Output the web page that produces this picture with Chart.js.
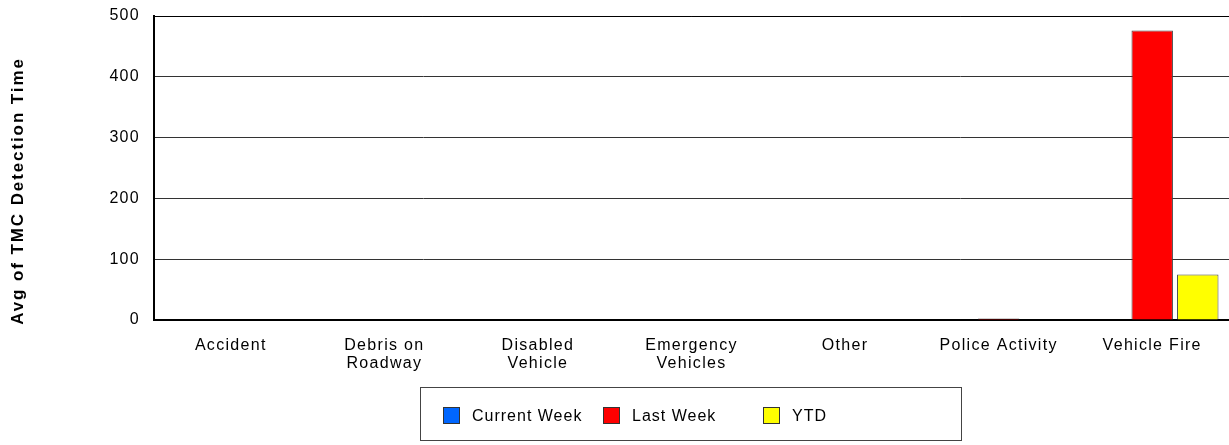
<!DOCTYPE html>
<html>
<head>
<meta charset="utf-8">
<script src="https://cdn.jsdelivr.net/npm/chart.js@4"></script>
<style>
  body { margin: 0; background: #fff; }
  #wrap { position: relative; width: 1229px; height: 445px; }
  #legend {
    position: absolute; left: 420px; top: 387px; width: 542px; height: 54px;
    border: 1px solid #444; box-sizing: border-box;
    font: 16px "Liberation Sans", Arial, sans-serif; color: #000; letter-spacing: 1px;
  }
  .item { position: absolute; top: 19px; height: 17px; line-height: 17px; }
  .sw { position: absolute; left: 0; top: 0; width: 17px; height: 17px; border: 1px solid #333; box-sizing: border-box; }
  .item span { position: absolute; left: 29px; top: 0; white-space: nowrap; }
</style>
</head>
<body>
<div id="wrap">
  <canvas id="myChart" width="1229" height="445"></canvas>
  <div id="legend"></div>
</div>
<script>
const categories = [
  "Accident", ["Debris on", "Roadway"], ["Disabled", "Vehicle"],
  ["Emergency", "Vehicles"], "Other", "Police Activity", "Vehicle Fire"
];
const currentWeek = [0, 0, 0, 0, 0, 0, 0];
const lastWeek = [0, 0, 0, 0, 0, 2.5, 476];
const ytd = [0, 0, 0, 0, 0, 0, 75];
const yTicks = [0, 100, 200, 300, 400, 500];

const seriesNames = ["Current Week", "Last Week", "YTD"];
const seriesColors = ["#0066ff", "#ff0000", "#ffff00"];
const yTitle = "Avg of TMC Detection Time";

const data = {
  labels: categories,
  datasets: [
    { label: seriesNames[0], data: currentWeek, backgroundColor: seriesColors[0] },
    { label: seriesNames[1], data: lastWeek, backgroundColor: seriesColors[1] },
    { label: seriesNames[2], data: ytd, backgroundColor: seriesColors[2] }
  ].map(d => Object.assign(d, {
    borderColor: '#444',
    borderWidth: 1,
    borderSkipped: 'bottom',
    categoryPercentage: 0.89,
    barPercentage: 0.91
  }))
};

// wide text spacing like the original, top frame line and y title
const extras = {
  id: 'extras',
  beforeInit(chart) { chart.ctx.letterSpacing = '1.3px'; },
  beforeDraw(chart) { chart.ctx.letterSpacing = '1.3px'; },
  afterDraw(chart) {
    const a = chart.chartArea, ctx = chart.ctx;
    ctx.save();
    ctx.strokeStyle = '#000';
    ctx.lineWidth = 1;
    ctx.beginPath();
    ctx.moveTo(a.left, a.top + 0.5);
    ctx.lineTo(a.right, a.top + 0.5);
    ctx.stroke();
    ctx.translate(18, 191);
    ctx.rotate(-Math.PI / 2);
    ctx.letterSpacing = '1.9px';
    ctx.font = 'bold 17px "Liberation Sans"';
    ctx.fillStyle = '#000';
    ctx.textAlign = 'center';
    ctx.textBaseline = 'middle';
    ctx.fillText(yTitle, 0, 0);
    ctx.restore();
  }
};

const config = {
  type: 'bar',
  data: data,
  options: {
    responsive: false,
    animation: false,
    layout: { padding: { top: 16, right: 0, bottom: 0, left: 0 } },
    plugins: { legend: { display: false }, tooltip: { enabled: false } },
    scales: {
      x: {
        afterFit(scale) { scale.height = 125; scale.paddingLeft = 0; scale.paddingRight = 0; },
        grid: { display: false },
        border: { color: '#000', width: 2 },
        ticks: {
          color: '#000', maxRotation: 0, autoSkip: false, padding: 8,
          font: { family: 'Liberation Sans', size: 16, lineHeight: 1.15 }
        }
      },
      y: {
        min: 0, max: 500,
        afterBuildTicks(scale) { scale.ticks = yTicks.map(v => ({ value: v })); },
        afterFit(scale) { scale.width = 154; scale.paddingTop = 0; scale.paddingBottom = 0; },
        grid: { color: '#333', drawTicks: false },
        border: { color: '#000', width: 2 },
        ticks: {
          color: '#000', padding: 14,
          font: { family: 'Liberation Sans', size: 16 }
        }
      }
    }
  },
  plugins: [extras]
};

var myChart = new Chart(document.getElementById('myChart'), config);

// legend as html
const lg = document.getElementById('legend');
const lefts = [22, 182, 342];
seriesNames.forEach((n, i) => {
  const it = document.createElement('div');
  it.className = 'item';
  it.style.left = lefts[i] + 'px';
  it.innerHTML = '<div class="sw" style="background:' + seriesColors[i] + '"></div><span>' + n + '</span>';
  lg.appendChild(it);
});
</script>
</body>
</html>
